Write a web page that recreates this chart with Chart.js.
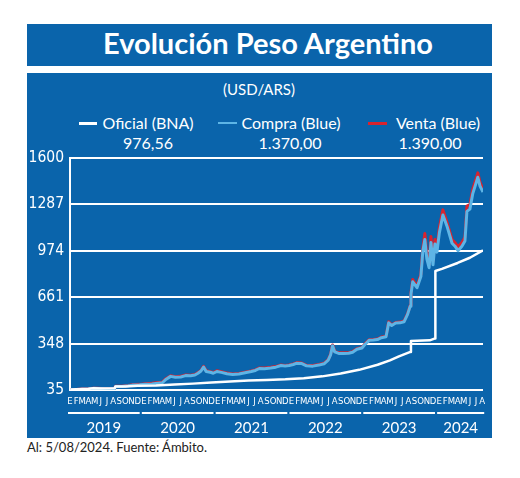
<!DOCTYPE html>
<html>
<head>
<meta charset="utf-8">
<script src="https://cdn.jsdelivr.net/npm/chart.js@4.4.0/dist/chart.umd.min.js"></script>
<style>
  html, body { margin: 0; padding: 0; background: #fff; }
  body { width: 520px; height: 478px; position: relative; overflow: hidden; font-family: Lato, 'Open Sans', sans-serif; }
  .box { position: absolute; left: 27px; width: 465px; background: #0a64ab; }
  #head { top: 24px; height: 42px; }
  #main { top: 73px; height: 365px; }
  .t { position: absolute; color: #fff; white-space: nowrap; transform: translateX(-50%); }
  #title { left: 268px; top: 25px; font-size: 29px; font-weight: 700; }
  #sub { left: 259px; top: 80px; font-size: 15px; }
  .lg { font-size: 16px; top: 113px; }
  .val { font-size: 16px; top: 133px; }
  .sw { position: absolute; height: 3px; }
  #note { position: absolute; left: 27px; top: 439px; font-size: 13px; color: #222; }
  #wrap { position: absolute; left: 27px; top: 150px; width: 465px; height: 288px; }
</style>
</head>
<body>
<div class="box" id="head"></div>
<div class="box" id="main"></div>
<div class="t" id="title">Evolución Peso Argentino</div>
<div class="t" id="sub">(USD/ARS)</div>

<div class="sw" style="left:79px;top:122px;width:18px;background:#fff"></div>
<div class="t lg" style="left:148px">Oficial (BNA)</div>
<div class="t val" style="left:148px">976,56</div>

<div class="sw" style="left:218px;top:122px;width:19px;height:2px;background:#5db5e6"></div>
<div class="t lg" style="left:291px">Compra (Blue)</div>
<div class="t val" style="left:290px">1.370,00</div>

<div class="sw" style="left:368px;top:122px;width:19px;background:#d9232e"></div>
<div class="t lg" style="left:438px">Venta (Blue)</div>
<div class="t val" style="left:430px">1.390,00</div>

<div id="wrap"><canvas id="chart"></canvas></div>
<div id="note">Al: 5/08/2024. Fuente: Ámbito.</div>

<script>
// tipo de cambio, ARS por USD
const oficialDates = ['2019-01-02','2019-04-01','2019-04-25','2019-06-01','2019-08-09','2019-08-13','2019-10-01','2019-12-01',
  '2020-03-01','2020-06-01','2020-09-01','2020-12-01','2021-03-01','2021-06-01','2021-09-01','2021-12-01',
  '2022-03-01','2022-06-01','2022-09-01','2022-12-01','2023-03-01','2023-05-01','2023-06-15','2023-08-11',
  '2023-08-14','2023-11-15','2023-12-12','2023-12-13','2024-01-15','2024-04-01','2024-06-01','2024-08-05'];
const oficial = [38, 43, 46, 45, 46.5, 58.5, 59, 63,
  65, 72, 78, 85, 93, 99, 103, 107,
  114, 127, 146, 171, 205, 235, 262, 292,
  365, 370, 383, 838, 852, 892, 927, 976.56];

const blueDates = ['2019-01-02','2019-02-01','2019-03-01','2019-04-01','2019-04-25','2019-05-20','2019-06-20','2019-07-20',
  '2019-08-09','2019-08-13','2019-09-15','2019-10-15','2019-11-05','2019-12-10','2020-01-10','2020-02-10',
  '2020-03-10','2020-04-01','2020-04-20','2020-05-12','2020-06-05','2020-07-01','2020-07-25','2020-08-20',
  '2020-09-10','2020-09-25','2020-10-10','2020-10-23','2020-11-05','2020-11-25','2020-12-10','2020-12-28',
  '2021-01-20','2021-02-15','2021-03-15','2021-04-15','2021-05-15','2021-06-15','2021-07-05','2021-07-25',
  '2021-08-20','2021-09-20','2021-10-15','2021-11-10','2021-11-30','2021-12-20','2022-01-10','2022-01-28',
  '2022-02-20','2022-03-15','2022-04-15','2022-05-15','2022-06-10','2022-06-30','2022-07-12','2022-07-22',
  '2022-08-02','2022-08-22','2022-09-15','2022-10-10','2022-10-30','2022-11-20','2022-12-15','2022-12-30',
  '2023-01-20','2023-02-10','2023-02-28','2023-03-20','2023-04-12','2023-04-25','2023-05-10','2023-05-30',
  '2023-06-20','2023-07-10','2023-07-28','2023-08-10','2023-08-14','2023-08-23','2023-09-13','2023-10-02',
  '2023-10-12','2023-10-22','2023-11-01','2023-11-12','2023-11-21','2023-12-01','2023-12-11','2023-12-21',
  '2024-01-02','2024-01-20','2024-02-09','2024-03-04','2024-03-19','2024-04-03','2024-04-22','2024-05-07',
  '2024-05-17','2024-06-01','2024-06-15','2024-07-10','2024-07-21','2024-08-05'];
const compra = [37, 37.5, 40, 42.5, 46, 44.5, 42.5, 42.5,
  45.5, 58, 58, 63, 68, 70, 74, 76,
  81, 84, 108, 127, 121, 123, 132, 131,
  136, 148, 163, 190, 160, 155, 148, 160,
  154, 145, 139, 143, 151, 160, 167, 180,
  179, 184, 189, 200, 197, 200, 207, 216,
  213, 198, 196, 203, 212, 236, 272, 333,
  292, 282, 282, 283, 290, 310, 318, 342,
  370, 372, 375, 388, 394, 488, 470, 487,
  488, 495, 545, 600, 680, 765, 725, 800,
  975, 1050, 920, 860, 1030, 880, 1020, 965,
  1095, 1215, 1140, 1025, 1005, 975, 1005, 1040,
  1240, 1255, 1360, 1470, 1410, 1370];
const venta = [38.5, 39, 41.5, 44, 47.5, 46, 44, 44,
  47, 61, 61, 66, 71, 73, 78, 80,
  85, 88, 113, 131, 125, 127, 136, 135,
  140, 152, 167, 195, 165, 159, 152, 165,
  158, 149, 143, 147, 155, 164, 171, 184,
  183, 188, 193, 204, 201, 204, 211, 220,
  217, 202, 200, 207, 216, 240, 277, 338,
  296, 286, 286, 287, 294, 314, 322, 346,
  374, 376, 379, 392, 398, 495, 474, 491,
  493, 500, 550, 605, 690, 780, 735, 815,
  995, 1090, 945, 880, 1070, 905, 1050, 990,
  1130, 1250, 1165, 1050, 1030, 1000, 1030, 1065,
  1275, 1285, 1390, 1500, 1435, 1390];

const monthLetters = ['E','F','M','A','M','J','J','A','S','O','N','D'];
const years = ['2019','2020','2021','2022','2023','2024'];
const yTicks = [35, 348, 661, 974, 1287, 1600];

const WHITE = '#ffffff';
const LIGHTBLUE = '#5db5e6';
const RED = '#d9232e';

// fecha -> índice de mes (0 = enero 2019)
function toIdx(s) {
  const [y, m, d] = s.split('-').map(Number);
  const dim = new Date(y, m, 0).getDate();
  return (y - 2019) * 12 + (m - 1) + (d - 1) / dim;
}
const pts = (dates, vals) => dates.map((d, i) => ({ x: toIdx(d), y: vals[i] }));

const xMax = toIdx('2024-08-05');
const monthCount = (years.length - 1) * 12 + 8;

// primer y último mes de cada año dentro del gráfico
const yearSpans = years.map((y, i) => [i * 12, Math.min(i * 12 + 11, monthCount - 1)]);

const yearLines = {
  id: 'yearLines',
  afterDraw(chart) {
    const xs = chart.scales.x;
    const ctx = chart.ctx;
    const yy = chart.chartArea.bottom + 23;
    ctx.save();
    ctx.strokeStyle = WHITE;
    ctx.lineWidth = 2;
    yearSpans.forEach(([a, b]) => {
      ctx.beginPath();
      ctx.moveTo(xs.getPixelForValue(a) - 2, yy);
      ctx.lineTo(xs.getPixelForValue(b) + 2, yy);
      ctx.stroke();
    });
    ctx.restore();
  }
};

const narrow = "'Liberation Sans Narrow', 'DejaVu Sans Condensed', Lato, sans-serif";

new Chart(document.getElementById('chart'), {
  type: 'line',
  data: {
    datasets: [
      { label: 'Oficial (BNA)', data: pts(oficialDates, oficial), borderColor: WHITE, borderWidth: 2.5 },
      { label: 'Compra (Blue)', data: pts(blueDates, compra), borderColor: LIGHTBLUE, borderWidth: 3 },
      { label: 'Venta (Blue)', data: pts(blueDates, venta), borderColor: RED, borderWidth: 3 }
    ]
  },
  options: {
    responsive: true,
    maintainAspectRatio: false,
    animation: false,
    layout: { padding: { left: 0, right: 9, top: 0, bottom: 0 } },
    elements: { point: { radius: 0 }, line: { tension: 0, borderJoinStyle: 'round' } },
    plugins: { legend: { display: false }, tooltip: { enabled: false } },
    scales: {
      x: {
        type: 'linear', min: 0, max: xMax, position: 'bottom',
        grid: { display: false, drawTicks: false },
        border: { display: false },
        ticks: {
          color: WHITE, padding: 6, autoSkip: false, maxRotation: 0,
          font: { family: narrow, size: 9.5 },
          callback: (v) => monthLetters[v % 12]
        },
        afterBuildTicks: (s) => { s.ticks = Array.from({ length: monthCount }, (_, i) => ({ value: i })); },
        afterFit: (s) => { s.height = 20; }
      },
      x2: {
        type: 'linear', min: 0, max: xMax, position: 'bottom',
        grid: { display: false, drawTicks: false },
        border: { display: false },
        ticks: {
          color: WHITE, padding: 9, autoSkip: false, maxRotation: 0,
          font: { family: 'Lato, sans-serif', size: 15 },
          callback: (v) => years[yearSpans.findIndex(([a, b]) => (a + b) / 2 === v)]
        },
        afterBuildTicks: (s) => { s.ticks = yearSpans.map(([a, b]) => ({ value: (a + b) / 2 })); },
        afterFit: (s) => { s.height = 28; }
      },
      y: {
        min: 35, max: 1600,
        grid: { color: WHITE, lineWidth: 2, drawTicks: false },
        border: { color: WHITE, width: 2 },
        ticks: {
          color: WHITE, padding: 6,
          font: { family: narrow, size: 15.5, lineHeight: 1 },
          callback: (v) => String(v)
        },
        afterBuildTicks: (s) => { s.ticks = yTicks.map(v => ({ value: v })); },
        afterFit: (s) => { s.width = 43; s.paddingTop = 8; }
      }
    }
  },
  plugins: [yearLines]
});
</script>
</body>
</html>
